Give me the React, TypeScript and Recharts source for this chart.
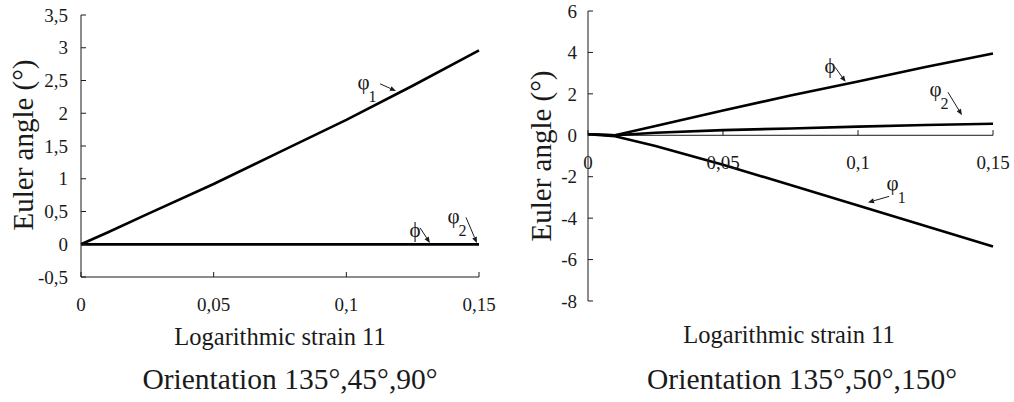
import React from "react";
import { LineChart, Line, XAxis, YAxis, ReferenceLine, ReferenceDot } from "recharts";

// ─── data ─────────────────────────────────────────────────────────────────────

const strain = [0, 0.01, 0.025, 0.05, 0.075, 0.1, 0.125, 0.15];

// Orientation 135°,45°,90°
const leftPhi1 = [0, 0.18, 0.46, 0.92, 1.41, 1.9, 2.42, 2.96];
const leftPhi = [0, 0, 0, 0, 0, 0, 0, 0];
const leftPhi2 = [0, 0, 0, 0, 0, 0, 0, 0];

// Orientation 135°,50°,150°
const rightPhi = [0.05, 0, 0.45, 1.2, 1.92, 2.6, 3.3, 3.95];
const rightPhi2 = [0.05, 0, 0.12, 0.25, 0.33, 0.42, 0.5, 0.56];
const rightPhi1 = [0.05, -0.05, -0.52, -1.42, -2.4, -3.39, -4.38, -5.37];

const xTicks = [0, 0.05, 0.1, 0.15];
const leftYTicks = [-0.5, 0, 0.5, 1, 1.5, 2, 2.5, 3, 3.5];
const rightYTicks = [-8, -6, -4, -2, 0, 2, 4, 6];

type Note = {
  sym: string;
  sub?: string;
  tx: number;
  ty: number;
  from: [number, number];
  to: [number, number];
};

const leftNotes: Note[] = [
  { sym: "φ", sub: "1", tx: 0.1078, ty: 2.48, from: [0.1127, 2.45], to: [0.1187, 2.34] },
  { sym: "ϕ", tx: 0.1259, ty: 0.23, from: [0.1278, 0.25], to: [0.1315, 0.02] },
  { sym: "φ", sub: "2", tx: 0.1417, ty: 0.43, from: [0.1451, 0.41], to: [0.1492, 0.02] },
];

const rightNotes: Note[] = [
  { sym: "ϕ", tx: 0.0896, ty: 3.34, from: [0.0915, 3.29], to: [0.0954, 2.58] },
  { sym: "φ", sub: "2", tx: 0.13, ty: 2.27, from: [0.1333, 2.08], to: [0.1385, 0.97] },
  { sym: "φ", sub: "1", tx: 0.1141, ty: -2.27, from: [0.1115, -2.95], to: [0.1037, -3.24] },
];

const toRows = (a: number[], b: number[], c: number[]) =>
  strain.map((s, i) => ({ s, phi1: a[i], phi: b[i], phi2: c[i] }));

const leftData = toRows(leftPhi1, leftPhi, leftPhi2);
const rightData = toRows(rightPhi1, rightPhi, rightPhi2);

// ─── helpers ──────────────────────────────────────────────────────────────────

const FONT = "'Liberation Serif', 'Times New Roman', Times, Tinos, 'DejaVu Serif', serif";
const INK = "#1a1a1a";
const comma = (v: number) => String(v).replace(".", ",");
const tickStyle = { fontSize: 19, fill: INK, fontFamily: FONT };

const Arrow = (p: any) => {
  const { x1, y1, x2, y2 } = p;
  const a = Math.atan2(y2 - y1, x2 - x1);
  const L = 6;
  const W = 2.5;
  const bx = x2 - L * Math.cos(a);
  const by = y2 - L * Math.sin(a);
  const pts = `${x2},${y2} ${bx - W * Math.sin(a)},${by + W * Math.cos(a)} ${bx + W * Math.sin(a)},${by - W * Math.cos(a)}`;
  return (
    <g>
      <line x1={x1} y1={y1} x2={bx} y2={by} stroke={INK} strokeWidth={1} />
      <polygon points={pts} fill={INK} />
    </g>
  );
};

const renderNotes = (notes: Note[]) =>
  notes.flatMap((n, i) => [
    <ReferenceLine
      key={`a${i}`}
      segment={[
        { x: n.from[0], y: n.from[1] },
        { x: n.to[0], y: n.to[1] },
      ]}
      shape={Arrow}
      ifOverflow="visible"
    />,
    <ReferenceDot
      key={`t${i}`}
      x={n.tx}
      y={n.ty}
      r={0}
      ifOverflow="visible"
      shape={(p: any) => (
        <text x={p.cx} y={p.cy} dy="0.35em" textAnchor="middle" style={{ fontFamily: FONT }} fontSize={21} fill={INK}>
          {n.sym}
          {n.sub && (
            <tspan dx={-1} dy={13} fontSize={16}>
              {n.sub}
            </tspan>
          )}
        </text>
      )}
    />,
  ]);

const series = (
  <>
    <Line dataKey="phi" type="linear" stroke="#000" strokeWidth={2.6} dot={false} isAnimationActive={false} />
    <Line dataKey="phi2" type="linear" stroke="#000" strokeWidth={2.6} dot={false} isAnimationActive={false} />
    <Line dataKey="phi1" type="linear" stroke="#000" strokeWidth={2.6} dot={false} isAnimationActive={false} />
  </>
);

const textBase: React.CSSProperties = {
  position: "absolute",
  fontFamily: FONT,
  color: INK,
  whiteSpace: "nowrap",
  lineHeight: 1,
};

const Caption = ({ x, y, size, children }: { x: number; y: number; size: number; children: React.ReactNode }) => (
  <div style={{ ...textBase, left: x, top: y, fontSize: size, transform: "translate(-50%, -50%)" }}>{children}</div>
);

const YTitle = ({ x, y }: { x: number; y: number }) => (
  <div
    style={{
      ...textBase,
      left: x,
      top: y,
      fontSize: 29,
      transform: "translate(-50%, -50%) rotate(-90deg)",
    }}
  >
    Euler angle (°)
  </div>
);

// ─── app ──────────────────────────────────────────────────────────────────────

export default function App() {
  return (
    <div style={{ position: "absolute", left: 0, top: 0, width: 1014, height: 402, background: "#fff", fontFamily: FONT }}>
      <div style={{ position: "absolute", left: 0, top: 0 }}>
        <LineChart width={500} height={402} data={leftData} margin={{ top: 15, right: 21, left: 0, bottom: 95 }}>
          <XAxis
            dataKey="s"
            type="number"
            domain={[0, 0.15]}
            ticks={xTicks}
            tickFormatter={comma}
            tick={tickStyle}
            height={30}
            stroke={INK}
            tickSize={-5}
            tickMargin={26}
          />
          <YAxis
            type="number"
            domain={[-0.5, 3.5]}
            ticks={leftYTicks}
            tickFormatter={comma}
            tick={tickStyle}
            width={81}
            stroke={INK}
            tickSize={-5}
            tickMargin={18}
          />
          {series}
          {renderNotes(leftNotes)}
        </LineChart>
      </div>

      <div style={{ position: "absolute", left: 500, top: 0 }}>
        <LineChart width={514} height={402} data={rightData} margin={{ top: 11, right: 21, left: 0, bottom: 101 }}>
          <XAxis dataKey="s" type="number" domain={[0, 0.15]} ticks={xTicks} hide />
          <YAxis
            type="number"
            domain={[-8, 6]}
            ticks={rightYTicks}
            tickFormatter={comma}
            tick={tickStyle}
            width={88}
            stroke={INK}
            tickSize={-5}
            tickMargin={16}
          />
          <ReferenceLine y={0} stroke={INK} strokeWidth={1} />
          {xTicks.map((t) => (
            <ReferenceLine
              key={`tk${t}`}
              segment={[
                { x: t, y: 0 },
                { x: t, y: 0.25 },
              ]}
              stroke={INK}
              strokeWidth={1}
            />
          ))}
          {xTicks.map((t) => (
            <ReferenceDot
              key={`tl${t}`}
              x={t}
              y={0}
              r={0}
              ifOverflow="visible"
              shape={(p: any) => (
                <text x={p.cx} y={p.cy + 27} dy="0.35em" textAnchor="middle" style={{ fontFamily: FONT }} fontSize={19} fill={INK}>
                  {comma(t)}
                </text>
              )}
            />
          ))}
          {series}
          {renderNotes(rightNotes)}
        </LineChart>
      </div>

      <YTitle x={23} y={145} />
      <YTitle x={541} y={156} />
      <Caption x={280} y={337} size={24.5}>
        Logarithmic strain 11
      </Caption>
      <Caption x={789} y={335} size={24.5}>
        Logarithmic strain 11
      </Caption>
      <Caption x={290} y={380} size={29.5}>
        Orientation 135°,45°,90°
      </Caption>
      <Caption x={802} y={380} size={29.5}>
        Orientation 135°,50°,150°
      </Caption>
    </div>
  );
}
